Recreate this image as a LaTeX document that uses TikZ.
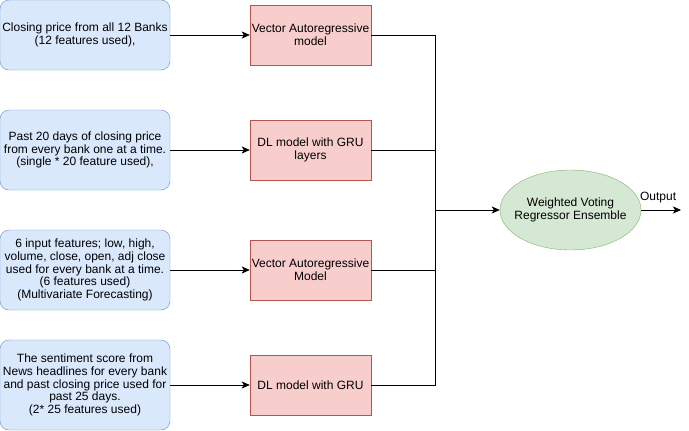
\documentclass[tikz,border=0pt]{standalone}
\usepackage{fontspec}
\setmainfont{Liberation Sans}
\usetikzlibrary{arrows.meta,shapes.geometric}
\definecolor{bfill}{HTML}{DAE8FC}
\definecolor{bline}{HTML}{6C8EBF}
\definecolor{rfill}{HTML}{F8CECC}
\definecolor{rline}{HTML}{B85450}
\definecolor{gfill}{HTML}{D5E8D4}
\definecolor{gline}{HTML}{82B366}
\tikzset{
  txt/.style={font=\fontsize{12}{12.8}\selectfont},
  inbox/.style={txt,draw=bline,fill=bfill,rounded corners=9pt,minimum width=170pt,align=center,inner sep=0pt},
  modbox/.style={txt,draw=rline,fill=rfill,minimum width=121pt,minimum height=60pt,align=center,inner sep=0pt},
  ens/.style={txt,draw=gline,fill=gfill,ellipse,minimum width=141pt,minimum height=80pt,align=center,inner xsep=-8pt,inner ysep=0pt},
  arr/.style={-{Stealth[length=8pt,width=7pt,inset=2pt]},line width=0.7pt},
  ln/.style={line width=0.7pt}
}
\begin{document}
\begin{tikzpicture}[x=1pt,y=-1pt]
\useasboundingbox (0,0) rectangle (689,431);
\node[inbox,minimum height=70pt] (i1) at (85,35) {Closing price from all 12 Banks\\(12 features used),};
\node[inbox,minimum height=80pt] (i2) at (85,150) {Past 20 days of closing price\\from every bank one at a time.\\(single * 20 feature used),};
\node[inbox,minimum height=80pt] (i3) at (85,270) {6 input features; low, high,\\volume, close, open, adj close\\used for every bank at a time.\\(6 features used)\\(Multivariate Forecasting)};
\node[inbox,minimum height=90pt] (i4) at (85,385) {The sentiment score from\\News headlines for every bank\\and past closing price used for\\past 25 days.\\(2* 25 features used)};
\node[modbox] (m1) at (310.5,35) {Vector Autoregressive\\model};
\node[modbox] (m2) at (310.5,150) {DL model with GRU\\layers};
\node[modbox] (m3) at (310.5,270) {Vector Autoregressive\\Model};
\node[modbox] (m4) at (310.5,385) {DL model with GRU};
\node[ens] (e) at (570.5,210) {Weighted Voting\\Regressor Ensemble};
\coordinate (j) at (435,210);
\coordinate (o) at (681,210);
\draw[arr] (i1) -- (m1);
\draw[arr] (i2) -- (m2);
\draw[arr] (i3) -- (m3);
\draw[arr] (i4) -- (m4);
\draw[ln] (m1.east) -| (j);
\draw[ln] (m2.east) -| (j);
\draw[ln] (m3.east) -| (j);
\draw[ln] (m4.east) -| (j);
\draw[arr] (j) -- (e);
\draw[arr] (e) -- node[txt,above=3pt,xshift=-3pt] (ol) {Output} (o);
\end{tikzpicture}
\end{document}
